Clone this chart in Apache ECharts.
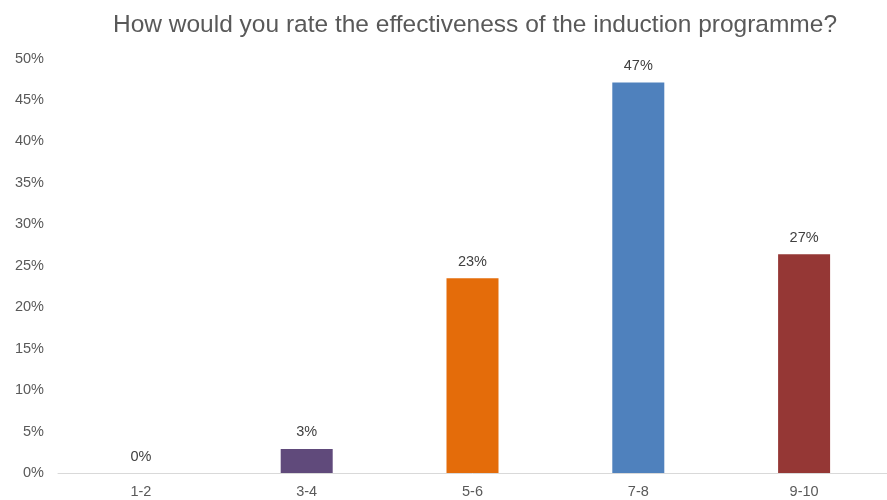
<!DOCTYPE html>
<html>
<head>
<meta charset="utf-8">
<script src="https://cdn.jsdelivr.net/npm/echarts@6/dist/echarts.min.js"></script>
<style>html,body{margin:0;padding:0;background:#fff}#c{width:887px;height:500px}</style>
</head>
<body>
<div id="c"></div>
<script>
var categories = ['1-2', '3-4', '5-6', '7-8', '9-10'];
var values = [0, 2.9, 23.5, 47.1, 26.4];
var valueLabels = ['0%', '3%', '23%', '47%', '27%'];
var barColors = ['#4F81BD', '#604A7B', '#E46C0A', '#4F81BD', '#953735'];
var yTicks = [0, 5, 10, 15, 20, 25, 30, 35, 40, 45, 50];

var chart = echarts.init(document.getElementById('c'), null, {renderer: 'canvas'});
chart.setOption({
  animation: false,
  title: {
    text: 'How would you rate the effectiveness of the induction programme?',
    left: 470, top: 8, textAlign: 'center',
    textStyle: {fontFamily: 'Liberation Sans', fontSize: 24.5, fontWeight: 'normal', color: '#595959'}
  },
  grid: {left: 58, right: -2, top: 58.5, bottom: 27, containLabel: false},
  xAxis: {
    type: 'category', data: categories,
    axisLine: {show: true, lineStyle: {color: '#D9D9D9', width: 1}},
    axisTick: {show: false},
    axisLabel: {fontFamily: 'Liberation Sans', fontSize: 14.5, color: '#595959', margin: 11}
  },
  yAxis: {
    type: 'value', min: yTicks[0], max: yTicks[yTicks.length - 1], interval: 5,
    splitLine: {show: false}, axisLine: {show: false}, axisTick: {show: false},
    axisLabel: {fontFamily: 'Liberation Sans', fontSize: 14.5, color: '#595959', margin: 14,
      formatter: function (v) { return v + '%'; }}
  },
  series: [{
    type: 'bar', barWidth: 52,
    data: values.map(function (v, i) { return {value: v, itemStyle: {color: barColors[i]}}; }),
    label: {show: true, position: 'top', distance: 9, fontFamily: 'Liberation Sans', fontSize: 14.5, color: '#404040',
      formatter: function (p) { return valueLabels[p.dataIndex]; }}
  }]
});
</script>
</body>
</html>
